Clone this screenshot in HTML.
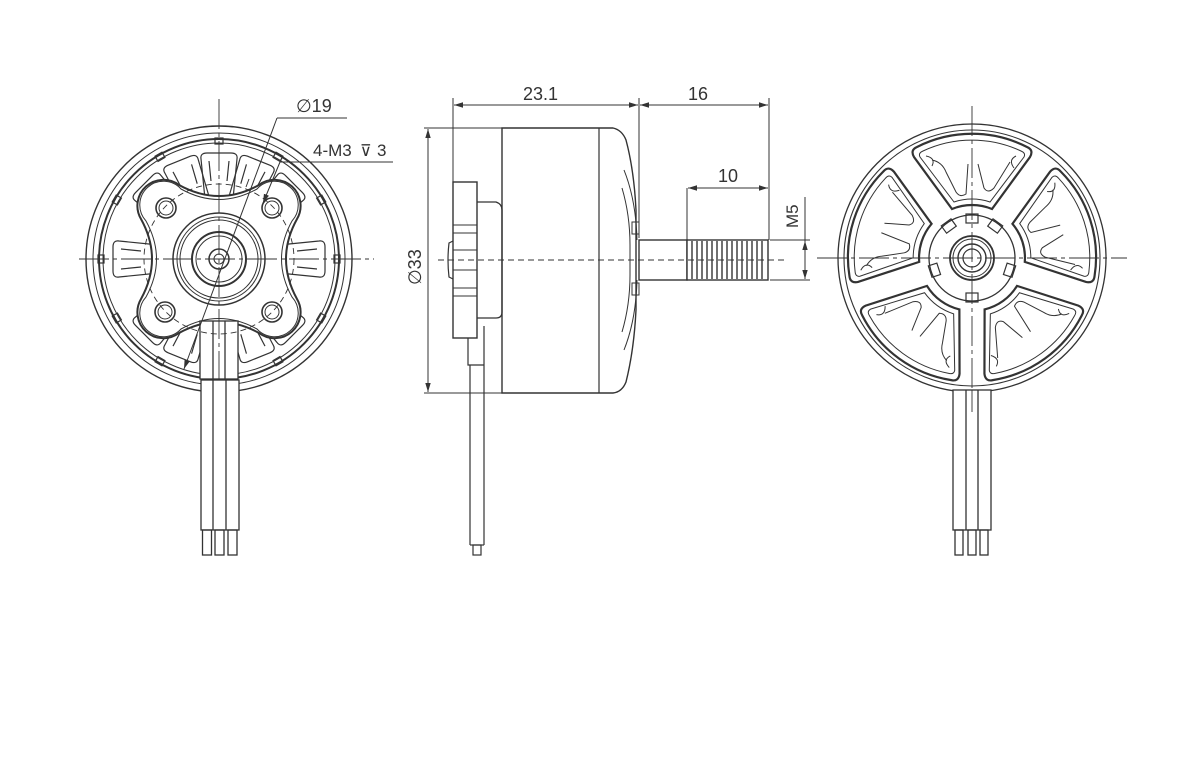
<!DOCTYPE html>
<html><head><meta charset="utf-8"><style>
html,body{margin:0;padding:0;background:#fff;}
svg{display:block;}
text{font-family:"Liberation Sans","DejaVu Sans",sans-serif;fill:#333;}
</style></head><body>
<svg width="1200" height="761" viewBox="0 0 1200 761" xmlns="http://www.w3.org/2000/svg" fill="none" stroke="#333" stroke-width="1.3">
<defs>
<marker id="a" viewBox="0 0 10 10" refX="10" refY="5" markerWidth="9" markerHeight="9" orient="auto-start-reverse"><path d="M0,2 L10,5 L0,8 Z" fill="#333" stroke="none"/></marker>
</defs>

<!-- ============ LEFT VIEW ============ -->
<g transform="translate(219,259)">
  <circle r="133" stroke-width="1.4"/>
  <circle r="126" stroke-width="1"/>
  <circle r="120" stroke-width="2"/>
  <circle r="116" stroke-width="1"/>
  <g stroke-width="1.2">
    <g id="nt"><rect x="-4" y="-121" width="8" height="6"/></g>
    <use href="#nt" transform="rotate(30)"/><use href="#nt" transform="rotate(60)"/><use href="#nt" transform="rotate(90)"/>
    <use href="#nt" transform="rotate(120)"/><use href="#nt" transform="rotate(150)"/><use href="#nt" transform="rotate(210)"/>
    <use href="#nt" transform="rotate(240)"/><use href="#nt" transform="rotate(270)"/><use href="#nt" transform="rotate(300)"/><use href="#nt" transform="rotate(330)"/>
  </g>
  <g stroke-width="1.2">
    <g id="tt"><path d="M-14,-60 L-18,-100 Q-19,-106 -12,-106 L12,-106 Q19,-106 18,-100 L14,-60"/><path d="M-8,-78 L-10,-98 M8,-78 L10,-98"/></g>
    <use href="#tt" transform="rotate(45)"/><use href="#tt" transform="rotate(90)"/><use href="#tt" transform="rotate(135)"/>
    <use href="#tt" transform="rotate(225)"/><use href="#tt" transform="rotate(270)"/><use href="#tt" transform="rotate(315)"/>
    <use href="#tt" transform="rotate(22)"/><use href="#tt" transform="rotate(-22)"/><use href="#tt" transform="rotate(158)"/><use href="#tt" transform="rotate(-158)"/>
  </g>
  <path fill="#fff" stroke-width="2" d="M-40,-74 Q0,-52 40,-74 A26,26 0 0 1 78,-40 Q56,0 78,40 A26,26 0 0 1 40,74 Q0,52 -40,74 A26,26 0 0 1 -78,40 Q-56,0 -78,-40 A26,26 0 0 1 -40,-74 Z"/>
  <path stroke-width="1" d="M-38,-70 Q0,-49 38,-70 A22,22 0 0 1 73,-38 Q52,0 73,38 A22,22 0 0 1 38,70 Q0,49 -38,70 A22,22 0 0 1 -73,38 Q-52,0 -73,-38 A22,22 0 0 1 -38,-70 Z"/>
  <rect x="-19" y="62" width="38" height="58" fill="#fff" stroke-width="1.3"/>
  <line x1="-6" y1="62" x2="-6" y2="120"/><line x1="6" y1="62" x2="6" y2="120"/>
  <g stroke-width="1.6">
    <circle cx="-53" cy="-51" r="10"/><circle cx="-53" cy="-51" r="7" stroke-width="1"/>
    <circle cx="53" cy="-51" r="10"/><circle cx="53" cy="-51" r="7" stroke-width="1"/>
    <circle cx="-54" cy="53" r="10"/><circle cx="-54" cy="53" r="7" stroke-width="1"/>
    <circle cx="53" cy="53" r="10"/><circle cx="53" cy="53" r="7" stroke-width="1"/>
  </g>
  <circle r="75" stroke-dasharray="6,4" stroke-width="0.9"/>
  <circle r="46" stroke-width="1.5"/>
  <circle r="42" stroke-width="1"/>
  <circle r="39" stroke-width="1"/>
  <circle r="27" stroke-width="2"/>
  <circle r="23" stroke-width="1"/>
  <circle r="10" stroke-width="1.5"/>
  <circle r="5" stroke-width="1"/>
  <line x1="-140" y1="0" x2="155" y2="0" stroke-width="0.9" stroke-dasharray="30,4,4,4"/>
  <line x1="0" y1="-160" x2="0" y2="145" stroke-width="0.9" stroke-dasharray="30,4,4,4"/>
  <line x1="58" y1="-141" x2="-35" y2="110" stroke-width="1" marker-end="url(#a)"/>
  <line x1="27" y1="-72" x2="30" y2="-80" stroke-width="1"/>
  <line x1="61" y1="-97" x2="44" y2="-56" stroke-width="1" marker-end="url(#a)"/>
</g>
<g stroke-width="1.3">
  <rect x="201" y="380" width="38" height="150" fill="#fff"/>
  <line x1="213" y1="380" x2="213" y2="530"/><line x1="226" y1="380" x2="226" y2="530"/>
  <rect x="202.5" y="530" width="9" height="25"/><rect x="215" y="530" width="9" height="25"/><rect x="228" y="530" width="9" height="25"/>
</g>
<line x1="277" y1="118" x2="347" y2="118" stroke-width="1"/>
<text x="296" y="112" font-size="18" stroke="none">∅19</text>
<line x1="280" y1="162" x2="393" y2="162" stroke-width="1"/>
<text x="313" y="156" font-size="17" stroke="none">4-M3</text>
<text x="360" y="156" font-size="16" stroke="none" style="font-family:'DejaVu Sans',sans-serif">⊽</text>
<text x="377" y="156" font-size="17" stroke="none">3</text>

<!-- ============ MIDDLE VIEW ============ -->
<line x1="453" y1="98" x2="453" y2="338" stroke-width="1"/>
<line x1="639" y1="98" x2="639" y2="238" stroke-width="1"/>
<line x1="769" y1="98" x2="769" y2="240" stroke-width="1"/>
<line x1="454" y1="105" x2="638" y2="105" stroke-width="1" marker-start="url(#a)" marker-end="url(#a)"/>
<line x1="640" y1="105" x2="768" y2="105" stroke-width="1" marker-start="url(#a)" marker-end="url(#a)"/>
<text x="523" y="100" font-size="18" stroke="none">23.1</text>
<text x="688" y="100" font-size="18" stroke="none">16</text>
<line x1="687" y1="188" x2="687" y2="240" stroke-width="1"/>
<line x1="688" y1="188" x2="768" y2="188" stroke-width="1" marker-start="url(#a)" marker-end="url(#a)"/>
<text x="718" y="182" font-size="18" stroke="none">10</text>
<line x1="424" y1="128" x2="502" y2="128" stroke-width="1"/>
<line x1="424" y1="393" x2="502" y2="393" stroke-width="1"/>
<line x1="428" y1="129" x2="428" y2="392" stroke-width="1" marker-start="url(#a)" marker-end="url(#a)"/>
<text transform="translate(421,285) rotate(-90)" font-size="18" stroke="none">∅33</text>
<line x1="770" y1="240" x2="810" y2="240" stroke-width="1"/>
<line x1="770" y1="280" x2="810" y2="280" stroke-width="1"/>
<line x1="805" y1="197" x2="805" y2="279" stroke-width="1"/>
<line x1="805" y1="262" x2="805" y2="241" stroke-width="1" marker-end="url(#a)"/>
<line x1="805" y1="262" x2="805" y2="279" stroke-width="1" marker-end="url(#a)"/>
<text transform="translate(798,228) rotate(-90)" font-size="17" stroke="none">M5</text>

<path d="M502,128 L613,128 Q622,130 626,140 Q634,170 636,210 L636,310 Q634,350 626,382 Q622,392 613,393 L502,393 Z" stroke-width="1.4"/>
<line x1="599" y1="128" x2="599" y2="393" stroke-width="1.2"/>
<path d="M624,170 Q636,200 637,240 M624,350 Q636,320 637,280" stroke-width="1"/>
<path d="M622,188 Q630,215 630,245 L630,275 Q630,305 622,332" stroke-width="1"/>
<rect x="632" y="222" width="7" height="12" stroke-width="1"/>
<rect x="632" y="283" width="7" height="12" stroke-width="1"/>
<rect x="453" y="182" width="24" height="156" fill="#fff" stroke-width="1.4"/>
<path d="M477,202 L496,202 Q502,204 502,210 L502,312 Q502,318 496,318 L477,318" stroke-width="1.3"/>
<line x1="453" y1="225" x2="477" y2="225" stroke-width="1"/>
<line x1="453" y1="233" x2="477" y2="233" stroke-width="1"/>
<line x1="453" y1="250" x2="477" y2="250" stroke-width="1"/>
<line x1="453" y1="270" x2="477" y2="270" stroke-width="1"/>
<line x1="453" y1="288" x2="477" y2="288" stroke-width="1"/>
<line x1="453" y1="296" x2="477" y2="296" stroke-width="1"/>
<path d="M453,241 L449,243 Q447,260 449,277 L453,279" stroke-width="1.2"/>
<path d="M468,338 L468,365 L470,365 L470,545 M484,326 L484,545 M468,365 L484,365" stroke-width="1.2"/>
<rect x="473" y="545" width="8" height="10" stroke-width="1.2"/>
<line x1="470" y1="545" x2="484" y2="545" stroke-width="1.2"/>
<rect x="639" y="240" width="48" height="40" fill="#fff" stroke-width="1.4"/>
<rect x="687" y="240" width="81" height="40" fill="#fff" stroke-width="1.4"/>
<g stroke-width="1.4">
<path d="M692,241v38M697,241v38M702,241v38M707,241v38M712,241v38M717,241v38M722,241v38M727,241v38M732,241v38M737,241v38M742,241v38M747,241v38M752,241v38M757,241v38M762,241v38"/>
</g>
<line x1="438" y1="260" x2="785" y2="260" stroke-width="1" stroke-dasharray="6,4"/>

<!-- ============ RIGHT VIEW ============ -->
<g transform="translate(972,258)">
  <circle r="134" stroke-width="1.3"/>
  <circle r="128" stroke-width="1.1"/>
  <g id="win">
    <path stroke-width="2.2" d="M-20,-49 L-58,-101 Q-62,-108 -55,-111 A121,121 0 0 1 55,-111 Q62,-108 58,-101 L20,-49 A52,52 0 0 0 -20,-49 Z"/>
    <path stroke-width="1" d="M-18,-56 L-52,-101 Q-54,-105 -49,-107 A116,116 0 0 1 49,-107 Q54,-105 52,-101 L18,-56 A58,58 0 0 0 -18,-56 Z"/>
    <path stroke-width="1" d="M-40,-98 Q-30,-96 -26,-86 L-16,-66 Q-12,-60 -6,-64 L-4,-94 M6,-94 L12,-70 Q16,-64 22,-70 L38,-96 M-46,-102 Q-36,-100 -40,-92 M44,-102 Q36,-98 42,-90"/>
  </g>
  <use href="#win" transform="rotate(72)"/>
  <use href="#win" transform="rotate(144)"/>
  <use href="#win" transform="rotate(216)"/>
  <use href="#win" transform="rotate(288)"/>
  <circle r="43" stroke-width="1.3"/>
  <g stroke-width="1.2">
    <g id="tab"><rect x="-6" y="-44" width="12" height="9"/></g>
    <use href="#tab" transform="rotate(-36)"/><use href="#tab" transform="rotate(36)"/>
    <use href="#tab" transform="rotate(108)"/><use href="#tab" transform="rotate(180)"/><use href="#tab" transform="rotate(252)"/>
  </g>
  <circle r="22" stroke-width="1.8"/>
  <circle r="19" stroke-width="1"/>
  <circle r="14" stroke-width="1.4"/>
  <circle r="9" stroke-width="1.2"/>
  <line x1="-155" y1="0" x2="155" y2="0" stroke-width="0.9" stroke-dasharray="30,4,4,4"/>
  <line x1="0" y1="-152" x2="0" y2="140" stroke-width="0.9" stroke-dasharray="30,4,4,4"/>
</g>
<g stroke-width="1.3">
  <rect x="953" y="390" width="38" height="140" fill="#fff"/>
  <line x1="966" y1="390" x2="966" y2="530"/><line x1="978" y1="390" x2="978" y2="530"/>
  <rect x="955" y="530" width="8" height="25"/><rect x="968" y="530" width="8" height="25"/><rect x="980" y="530" width="8" height="25"/>
</g>
<line x1="972" y1="390" x2="972" y2="412" stroke-width="0.9"/>
</svg>
</body></html>
